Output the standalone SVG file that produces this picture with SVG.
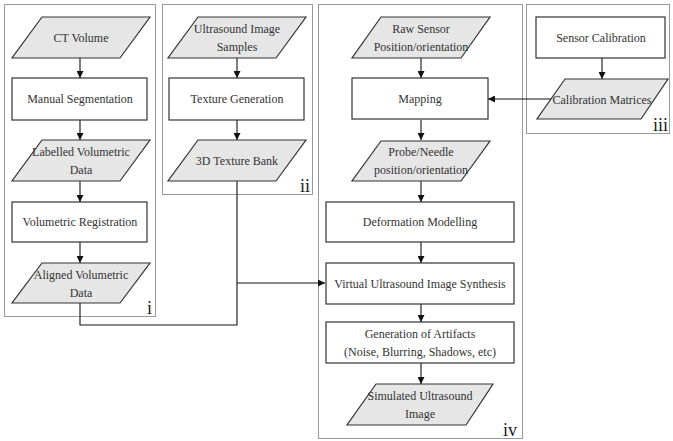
<svg xmlns="http://www.w3.org/2000/svg" width="673" height="441" viewBox="0 0 673 441">
<defs>
<marker id="ah" viewBox="0 0 10 10" refX="10" refY="5" markerWidth="7" markerHeight="7" markerUnits="userSpaceOnUse" orient="auto"><path d="M0,0 L10,5 L0,10 z" fill="#111"/></marker>
<style>
.grp{fill:none;stroke:#333;stroke-width:1;stroke-dasharray:1,1}
.rc{fill:#fff;stroke:#333;stroke-width:1.2}
.pg{fill:#e6e6e6;stroke:#333;stroke-width:1.2}
text{font-family:"Liberation Serif","Times New Roman",serif;font-size:12px;fill:#333;text-anchor:middle}
.lbl{font-size:18px;fill:#222;text-anchor:end}
.cn{fill:none;stroke:#111;stroke-width:1.1}
</style>
</defs>
<rect width="673" height="441" fill="#fff"/>
<g id="groups">
<rect class="grp" x="4.5" y="4.5" width="151" height="312"/>
<text class="lbl" x="152" y="314">i</text>
<rect class="grp" x="162.5" y="4.5" width="150" height="190"/>
<text class="lbl" x="310" y="192">ii</text>
<rect class="grp" x="318.5" y="4.5" width="204" height="434"/>
<text class="lbl" x="517" y="436">iv</text>
<rect class="grp" x="526.5" y="4.5" width="143" height="129"/>
<text class="lbl" x="668" y="131">iii</text>
</g>
<g id="connectors">
<path class="cn" d="M80,58 V78" marker-end="url(#ah)"/>
<path class="cn" d="M80,120 V140" marker-end="url(#ah)"/>
<path class="cn" d="M80,181 V202" marker-end="url(#ah)"/>
<path class="cn" d="M80,242 V263" marker-end="url(#ah)"/>
<path class="cn" d="M237,58 V78" marker-end="url(#ah)"/>
<path class="cn" d="M237,120 V140" marker-end="url(#ah)"/>
<path class="cn" d="M80,303 V325 H237 V181"/>
<path class="cn" d="M237,283 H325" marker-end="url(#ah)"/>
<path class="cn" d="M421,58 V78" marker-end="url(#ah)"/>
<path class="cn" d="M421,120 V140" marker-end="url(#ah)"/>
<path class="cn" d="M421,181 V202" marker-end="url(#ah)"/>
<path class="cn" d="M421,242 V263" marker-end="url(#ah)"/>
<path class="cn" d="M421,304 V322" marker-end="url(#ah)"/>
<path class="cn" d="M421,363 V384" marker-end="url(#ah)"/>
<path class="cn" d="M602,58 V79" marker-end="url(#ah)"/>
<path class="cn" d="M551,99 H488" marker-end="url(#ah)"/>
</g>
<g id="ct-volume"><polygon class="pg" points="42,17 150,17 120,58 12,58"/><text x="81" y="42">CT Volume</text></g>
<g id="manual-segmentation"><rect class="rc" x="12" y="78" width="135" height="42"/><text x="80" y="103">Manual Segmentation</text></g>
<g id="labelled-volumetric-data"><polygon class="pg" points="42,140 150,140 120,181 12,181"/><text x="81" y="156">Labelled Volumetric</text><text x="81" y="174">Data</text></g>
<g id="volumetric-registration"><rect class="rc" x="12" y="202" width="135" height="40"/><text x="80" y="226">Volumetric Registration</text></g>
<g id="aligned-volumetric-data"><polygon class="pg" points="42,263 150,263 120,303 12,303"/><text x="81" y="279">Aligned Volumetric</text><text x="81" y="297">Data</text></g>
<g id="ultrasound-image-samples"><polygon class="pg" points="198,17 306,17 276,58 168,58"/><text x="237" y="33">Ultrasound Image</text><text x="237" y="51">Samples</text></g>
<g id="texture-generation"><rect class="rc" x="169" y="78" width="135" height="42"/><text x="237" y="103">Texture Generation</text></g>
<g id="texture-bank"><polygon class="pg" points="198,140 306,140 276,181 168,181"/><text x="237" y="165">3D Texture Bank</text></g>
<g id="raw-sensor"><polygon class="pg" points="381,17 490,17 461,58 352,58"/><text x="421" y="33">Raw Sensor</text><text x="421" y="51">Position/orientation</text></g>
<g id="mapping"><rect class="rc" x="352" y="78" width="136" height="41"/><text x="420" y="103">Mapping</text></g>
<g id="probe-needle"><polygon class="pg" points="381,141 490,141 461,181 352,181"/><text x="421" y="156">Probe/Needle</text><text x="421" y="174">position/orientation</text></g>
<g id="deformation-modelling"><rect class="rc" x="326" y="202" width="188" height="40"/><text x="420" y="226">Deformation Modelling</text></g>
<g id="virtual-synthesis"><rect class="rc" x="326" y="263" width="188" height="41"/><text x="420" y="288">Virtual Ultrasound Image Synthesis</text></g>
<g id="artifacts"><rect class="rc" x="326" y="322" width="188" height="41"/><text x="420" y="338">Generation of Artifacts</text><text x="420" y="356">(Noise, Blurring, Shadows, etc)</text></g>
<g id="simulated-image"><polygon class="pg" points="376,384 493,384 466,425 347,425"/><text x="420" y="400">Simulated Ultrasound</text><text x="420" y="418">Image</text></g>
<g id="sensor-calibration"><rect class="rc" x="536" y="17" width="129" height="41"/><text x="601" y="42">Sensor Calibration</text></g>
<g id="calibration-matrices"><polygon class="pg" points="565,79 668,79 641,119 537,119"/><text x="602" y="104">Calibration Matrices</text></g>
</svg>
